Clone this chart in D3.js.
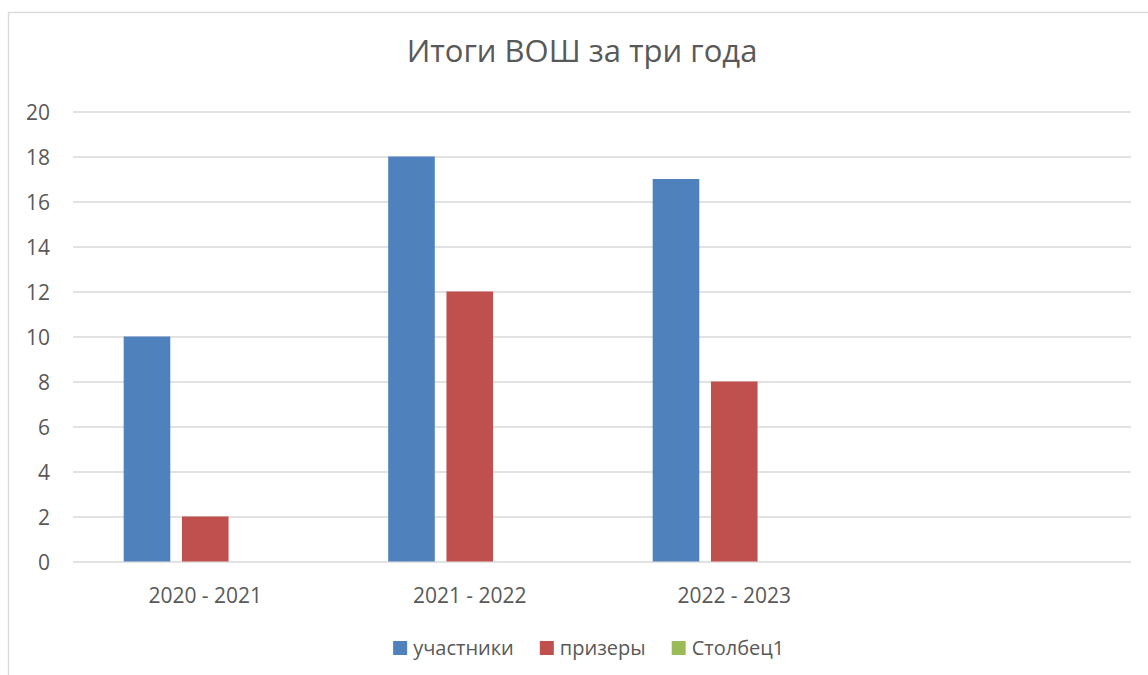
<!DOCTYPE html>
<html>
<head>
<meta charset="utf-8">
<script src="https://cdn.jsdelivr.net/npm/d3@7"></script>
<style>
  body { margin: 0; background: #fff; }
  text { font-family: "Open Sans", "Liberation Sans", sans-serif; fill: #595959; }
</style>
</head>
<body>
<div id="vis"></div>
<script>
// данные диаграммы
var categories = ['2020 - 2021', '2021 - 2022', '2022 - 2023', ''];
var seriesNames = ['участники', 'призеры', 'Столбец1'];
var participants = [10, 18, 17, null];
var winners = [2, 12, 8, null];
var column1 = [null, null, null, null];
var yTicks = [0, 2, 4, 6, 8, 10, 12, 14, 16, 18, 20];

var seriesValues = [participants, winners, column1];
var colors = ['#4F81BD', '#C0504D', '#9BBB59'];

var width = 1148;
var height = 675;
var plot = { left: 73, right: 1131, top: 111.5, bottom: 561.5 };

var svg = d3.select('#vis')
  .append('svg')
  .attr('width', width)
  .attr('height', height);

// рамка области диаграммы
svg.append('rect')
  .attr('x', 8.5)
  .attr('y', 12.5)
  .attr('width', 1160)
  .attr('height', 700)
  .attr('fill', 'none')
  .attr('stroke', '#D9D9D9')
  .attr('stroke-width', 1.3);

var x0 = d3.scaleBand()
  .domain(categories.map(function (d, i) { return i; }))
  .range([plot.left, plot.right])
  .padding(0);

var x1 = d3.scaleBand()
  .domain(seriesNames)
  .range([0, x0.bandwidth()])
  .paddingInner(0.2)
  .paddingOuter(0.87);

var y = d3.scaleLinear()
  .domain([0, 20])
  .range([plot.bottom, plot.top]);

// сетка и подписи оси Y
var yAxis = svg.append('g')
  .attr('transform', 'translate(' + plot.left + ',0)')
  .call(d3.axisLeft(y)
    .tickValues(yTicks)
    .tickSize(-(plot.right - plot.left))
    .tickPadding(23));

yAxis.select('.domain').remove();
yAxis.selectAll('line')
  .attr('stroke', '#D9D9D9')
  .attr('stroke-width', 1.5);
yAxis.selectAll('text')
  .attr('font-size', 21)
  .attr('dy', '0.36em')
  .style('fill', '#595959');

// столбцы
seriesNames.forEach(function (name, s) {
  svg.append('g')
    .selectAll('rect')
    .data(seriesValues[s].map(function (v, i) { return { i: i, v: v }; })
      .filter(function (d) { return d.v != null; }))
    .enter().append('rect')
    .attr('x', function (d) { return x0(d.i) + x1(name); })
    .attr('y', function (d) { return y(d.v); })
    .attr('width', x1.bandwidth())
    .attr('height', function (d) { return y(0) - y(d.v); })
    .attr('fill', colors[s]);
});

// подписи категорий
svg.append('g')
  .selectAll('text')
  .data(categories)
  .enter().append('text')
  .attr('x', function (d, i) { return x0(i) + x0.bandwidth() / 2; })
  .attr('y', 603)
  .attr('text-anchor', 'middle')
  .attr('font-size', 21)
  .text(function (d) { return d; });

// заголовок
svg.append('text')
  .attr('x', 582)
  .attr('y', 62)
  .attr('text-anchor', 'middle')
  .attr('font-size', 31)
  .text('Итоги ВОШ за три года');

// легенда
var legend = svg.append('g');
var cursor = 0;
seriesNames.forEach(function (name, s) {
  var item = legend.append('g').attr('transform', 'translate(' + cursor + ',0)');
  item.append('rect')
    .attr('x', 0)
    .attr('y', 641)
    .attr('width', 14)
    .attr('height', 14)
    .attr('fill', colors[s]);
  var t = item.append('text')
    .attr('x', 20)
    .attr('y', 655)
    .attr('font-size', 20)
    .text(name);
  cursor += 20 + t.node().getComputedTextLength() + 26;
});
var legendWidth = cursor - 26;
legend.attr('transform', 'translate(' + (588.7 - legendWidth / 2) + ',0)');
</script>
</body>
</html>
